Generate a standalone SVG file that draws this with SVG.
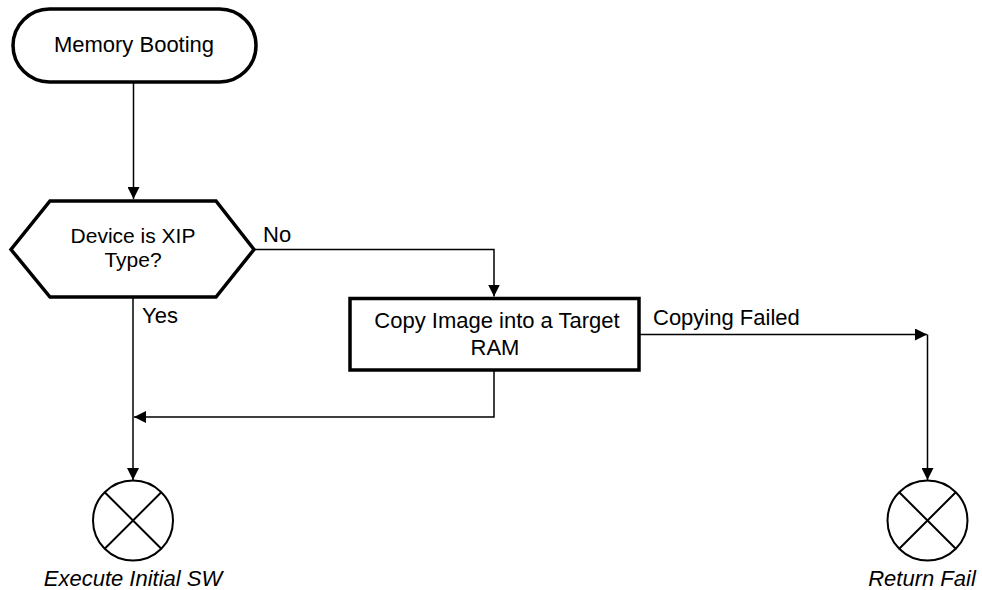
<svg xmlns="http://www.w3.org/2000/svg" width="982" height="590" viewBox="0 0 982 590">
<defs>
<style>
.node{fill:#fff;stroke:#000;stroke-width:3.5}
.end{fill:#fff;stroke:#000;stroke-width:2}
.x{stroke:#000;stroke-width:2}
.t{font-family:"Liberation Sans",Arial,sans-serif;font-size:22px;fill:#000}
.c{text-anchor:middle}
.i{font-style:italic}
.conn{fill:none;stroke:#000;stroke-width:1.5}
</style>
<marker id="ah" viewBox="0 0 12 12" refX="12" refY="6" markerWidth="12" markerHeight="12" markerUnits="userSpaceOnUse" orient="auto">
<path d="M0,0 L12,6 L0,12 Z" fill="#000"/>
</marker>
</defs>
<rect width="982" height="590" fill="#fff"/>
<g id="connectors">
<path class="conn" d="M133.5,82 V199" marker-end="url(#ah)"/>
<path class="conn" d="M254,249.5 H494 V296.5" marker-end="url(#ah)"/>
<path class="conn" d="M133,297 V480" marker-end="url(#ah)"/>
<path class="conn" d="M494,371 V417 H134" marker-end="url(#ah)"/>
<path class="conn" d="M640,334.5 H927"  marker-end="url(#ah)"/>
<path class="conn" d="M927.5,334.5 V480" marker-end="url(#ah)"/>
<text class="t" x="263" y="242">No</text>
<text class="t" x="142" y="323">Yes</text>
<text class="t" x="653" y="325">Copying Failed</text>
</g>
<g id="start">
<rect class="node" x="13" y="9" width="243" height="73" rx="36.5"/>
<text class="t c" x="134" y="52">Memory Booting</text>
</g>
<g id="decision">
<polygon class="node" points="50,201 216,201 254,249.5 216,297 50,297 11,249.5"/>
<text class="t c" style="font-size:21px"><tspan x="133" y="242.5">Device is XIP</tspan><tspan x="133" y="266.5">Type?</tspan></text>
</g>
<g id="copy">
<rect class="node" x="350" y="298.5" width="289" height="71.5"/>
<text class="t c"><tspan x="497" y="328">Copy Image into a Target</tspan><tspan x="495" y="355">RAM</tspan></text>
</g>
<g id="execute">
<circle class="end" cx="133" cy="520.5" r="40"/>
<path class="x" d="M104.7,492.2 L161.3,548.8 M161.3,492.2 L104.7,548.8"/>
<text class="t c i" x="133" y="586">Execute Initial SW</text>
</g>
<g id="fail">
<circle class="end" cx="927.5" cy="520.5" r="40"/>
<path class="x" d="M899.2,492.2 L955.8,548.8 M955.8,492.2 L899.2,548.8"/>
<text class="t c i" x="922" y="586">Return Fail</text>
</g>
</svg>
